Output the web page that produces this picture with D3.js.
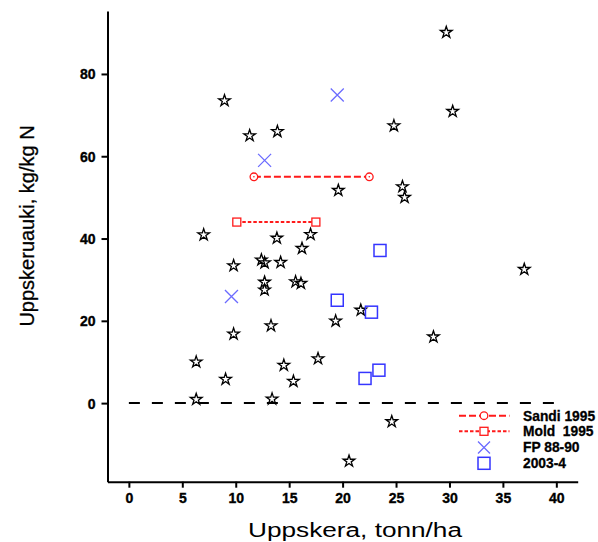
<!DOCTYPE html>
<html>
<head>
<meta charset="utf-8">
<script src="https://cdn.jsdelivr.net/npm/d3@7"></script>
<style>
  html, body { margin: 0; padding: 0; background: #fff; }
  svg { display: block; }
  .tick text { font-family: "Liberation Sans", Arial, sans-serif; font-weight: bold; font-size: 14px; stroke: #000; stroke-width: 0.35px; }
</style>
</head>
<body>
<svg id="chart" width="598" height="542"></svg>
<script>
// Yield (tonn/ha) against yield increase per kg N
const starX = [29.7, 8.95, 11.3, 13.9, 30.3, 24.8, 19.6, 25.6, 25.8, 7.0, 13.85, 17.0, 16.2,
               9.8, 12.4, 12.7, 14.2, 12.7, 12.7, 15.6, 16.1, 37.0, 21.7, 19.35, 28.5,
               9.8, 13.3, 6.3, 14.5, 17.7, 9.05, 15.4, 6.3, 13.4, 24.6, 20.6];
const starY = [90.1, 73.5, 65.0, 66.0, 70.9, 67.4, 51.7, 52.6, 50.0, 40.9, 40.1, 41.0, 37.6,
               33.4, 34.8, 34.1, 34.2, 29.4, 27.5, 29.5, 29.1, 32.5, 22.6, 19.95, 16.1,
               16.8, 18.8, 10.0, 9.2, 10.8, 5.8, 5.3, 0.9, 1.0, -4.5, -14.1];

const sandiX = [11.7, 22.5];
const sandiY = [55, 55];
const moldX = [10.1, 17.5];
const moldY = [44, 44];

const fpX = [12.7, 19.5, 9.6];
const fpY = [59.0, 74.9, 25.9];

const sqX = [23.5, 19.5, 22.7, 22.1, 23.4];
const sqY = [37.1, 25.0, 22.1, 6.0, 8.0];

const xTicks = [0, 5, 10, 15, 20, 25, 30, 35, 40];
const yTicks = [0, 20, 40, 60, 80];

const legendLabels = ["Sandi 1995", "Mold  1995", "FP 88-90", "2003-4"];

const W = 598, H = 542;
const margin = { top: 11, right: 20.3, bottom: 60.3, left: 107.5 };

const svg = d3.select("#chart");

const x = d3.scaleLinear().domain([-2, 42]).range([margin.left, W - margin.right]);
const y = d3.scaleLinear().domain([-19.1, 95.3]).range([H - margin.bottom, margin.top]);

const red = "#ff1a1a";
const fpBlue = "#6b6bff";
const sqBlue = "#3535ff";

// Axes
const xAxis = d3.axisBottom(x).tickValues(xTicks).tickSize(6).tickSizeOuter(0).tickPadding(5);
const yAxis = d3.axisLeft(y).tickValues(yTicks).tickSize(6).tickSizeOuter(0).tickPadding(6);

const gx = svg.append("g").attr("transform", `translate(0,${H - margin.bottom})`).call(xAxis);
const gy = svg.append("g").attr("transform", `translate(${margin.left},0)`).call(yAxis);
[gx, gy].forEach(g => {
  g.select(".domain").attr("stroke", "#000").attr("stroke-width", 2);
  g.selectAll(".tick line").attr("stroke", "#000").attr("stroke-width", 2);
  g.selectAll(".tick text").attr("fill", "#000");
});
gy.selectAll(".tick text").attr("dy", "0.35em");

// Axis titles
svg.append("text")
  .attr("x", 248).attr("y", 537)
  .attr("font-family", "Liberation Sans, Arial, sans-serif")
  .attr("font-size", 20)
  .attr("textLength", 214)
  .attr("lengthAdjust", "spacingAndGlyphs")
  .text("Uppskera, tonn/ha");

svg.append("text")
  .attr("transform", "translate(34,226) rotate(-90)")
  .attr("text-anchor", "middle")
  .attr("font-family", "Liberation Sans, Arial, sans-serif")
  .attr("font-size", 20)
  .attr("stroke", "#000").attr("stroke-width", 0.3)
  .text("Uppskeruauki, kg/kg N");

// Zero reference line
svg.append("line")
  .attr("x1", x(0)).attr("x2", x(40))
  .attr("y1", y(0)).attr("y2", y(0))
  .attr("stroke", "#000").attr("stroke-width", 2)
  .attr("stroke-dasharray", "11,12");

// Stars
const star = d3.symbol().type(d3.symbolStar).size(42);
svg.append("g").selectAll("path")
  .data(starX.map((v, i) => [v, starY[i]]))
  .join("path")
  .attr("d", star)
  .attr("transform", d => `translate(${x(d[0])},${y(d[1])})`)
  .attr("fill", "none").attr("stroke", "#000").attr("stroke-width", 1.3);

// Sandi 1995 and Mold 1995 ranges
const line = d3.line().x(d => x(d[0])).y(d => y(d[1]));
const sandi = sandiX.map((v, i) => [v, sandiY[i]]);
const mold = moldX.map((v, i) => [v, moldY[i]]);

svg.append("path").attr("d", line(sandi))
  .attr("fill", "none").attr("stroke", red).attr("stroke-width", 2)
  .attr("stroke-dasharray", "7,3");
svg.append("g").selectAll("circle").data(sandi).join("circle")
  .attr("cx", d => x(d[0])).attr("cy", d => y(d[1])).attr("r", 3.8)
  .attr("fill", "#fff").attr("stroke", red).attr("stroke-width", 1.3);
svg.append("g").selectAll("circle").data(sandi).join("circle")
  .attr("cx", d => x(d[0])).attr("cy", d => y(d[1])).attr("r", 0.8)
  .attr("fill", red);

svg.append("path").attr("d", line(mold))
  .attr("fill", "none").attr("stroke", red).attr("stroke-width", 2)
  .attr("stroke-dasharray", "3.5,2");
svg.append("g").selectAll("rect").data(mold).join("rect")
  .attr("x", d => x(d[0]) - 4).attr("y", d => y(d[1]) - 4)
  .attr("width", 8).attr("height", 8)
  .attr("fill", "#fff").attr("stroke", red).attr("stroke-width", 1.3);

// FP 88-90 crosses
function cross(g, cx, cy, h) {
  g.append("path")
    .attr("d", `M${cx - h},${cy - h}L${cx + h},${cy + h}M${cx - h},${cy + h}L${cx + h},${cy - h}`)
    .attr("stroke", fpBlue).attr("stroke-width", 1.3).attr("fill", "none");
}
const gfp = svg.append("g");
fpX.forEach((v, i) => cross(gfp, x(v), y(fpY[i]), 6.5));

// 2003-4 squares
svg.append("g").selectAll("rect")
  .data(sqX.map((v, i) => [v, sqY[i]]))
  .join("rect")
  .attr("x", d => x(d[0]) - 6).attr("y", d => y(d[1]) - 6)
  .attr("width", 12).attr("height", 12)
  .attr("fill", "none").attr("stroke", sqBlue).attr("stroke-width", 1.5);

// Legend
const lg = svg.append("g");
const rows = [415.7, 431.3, 447.5, 463.3];
const lx1 = 459, lx2 = 509.5, mx = 484, tx = 523;

lg.append("line").attr("x1", lx1).attr("x2", lx2).attr("y1", rows[0]).attr("y2", rows[0])
  .attr("stroke", red).attr("stroke-width", 2).attr("stroke-dasharray", "7,3");
lg.append("circle").attr("cx", mx).attr("cy", rows[0]).attr("r", 3.8)
  .attr("fill", "#fff").attr("stroke", red).attr("stroke-width", 1.3);

lg.append("line").attr("x1", lx1).attr("x2", lx2).attr("y1", rows[1]).attr("y2", rows[1])
  .attr("stroke", red).attr("stroke-width", 2).attr("stroke-dasharray", "3.5,2");
lg.append("rect").attr("x", mx - 4).attr("y", rows[1] - 4).attr("width", 8).attr("height", 8)
  .attr("fill", "#fff").attr("stroke", red).attr("stroke-width", 1.3);

cross(lg, mx, rows[2], 6);

lg.append("rect").attr("x", mx - 6).attr("y", rows[3] - 6).attr("width", 12).attr("height", 12)
  .attr("fill", "none").attr("stroke", sqBlue).attr("stroke-width", 1.5);

lg.selectAll("text").data(legendLabels).join("text")
  .attr("x", tx).attr("y", (d, i) => rows[i])
  .attr("dy", "0.36em")
  .attr("font-family", "Liberation Sans, Arial, sans-serif")
  .attr("font-weight", "bold")
  .attr("font-size", 13.8)
  .attr("stroke", "#000").attr("stroke-width", 0.3)
  .style("white-space", "pre")
  .text(d => d);
</script>
</body>
</html>
